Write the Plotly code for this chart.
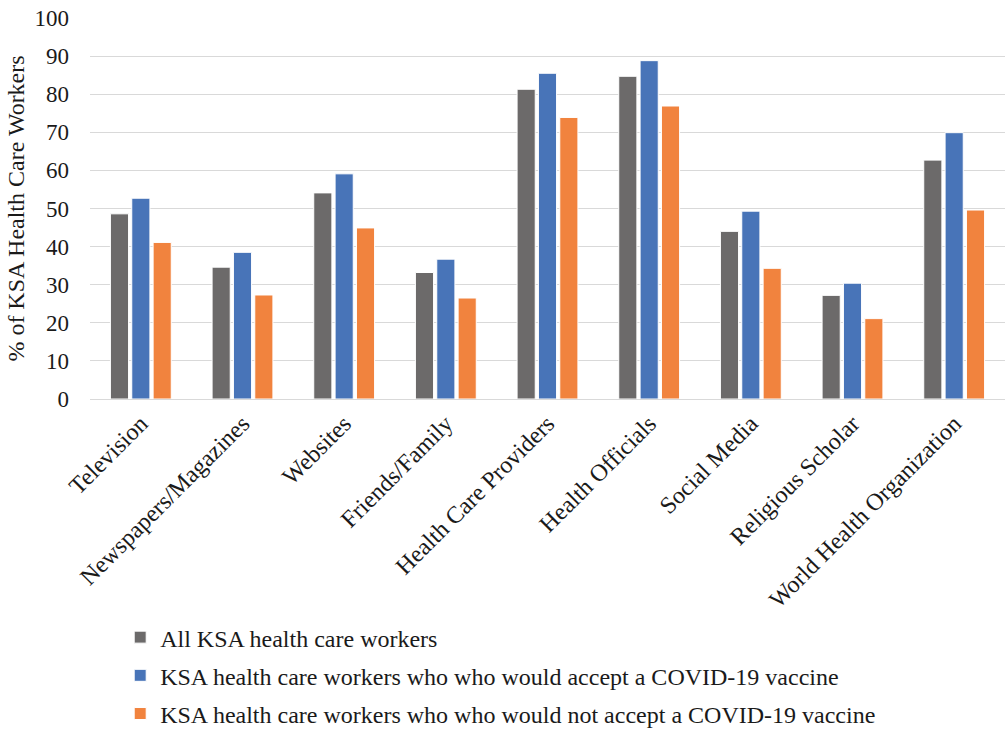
import plotly.graph_objects as go

categories = ["Television", "Newspapers/Magazines", "Websites", "Friends/Family",
              "Health Care Providers", "Health Officials", "Social Media",
              "Religious Scholar", "World Health Organization"]
all_workers = [48.6, 34.6, 54.1, 33.2, 81.3, 84.7, 44.0, 27.2, 62.7]
accept = [52.7, 38.5, 59.1, 36.7, 85.5, 88.8, 49.3, 30.4, 69.9]
not_accept = [41.1, 27.3, 44.9, 26.5, 73.9, 76.9, 34.3, 21.1, 49.6]
series_names = ["All KSA health care workers",
                "KSA health care workers who who would accept a COVID-19 vaccine",
                "KSA health care workers who who would not accept a COVID-19 vaccine"]
colors = ["#6c6a6a", "#4874b8", "#f1833e"]
y_ticks = [0, 10, 20, 30, 40, 50, 60, 70, 80, 90, 100]

FONT = "Liberation Serif, Times New Roman, serif"
TXT = "#1a1a1a"

fig = go.Figure()
for i, (name, vals) in enumerate(zip(series_names, [all_workers, accept, not_accept])):
    fig.add_trace(go.Bar(
        x=categories, y=vals, name=name,
        marker=dict(color=colors[i], line=dict(color="white", width=1)),
        legendgroup=f"g{i}",
    ))

fig.update_layout(
    width=1006, height=729,
    margin=dict(l=90, r=1, t=18, b=330, autoexpand=False),
    paper_bgcolor="white", plot_bgcolor="white",
    barmode="group", bargap=0.37, bargroupgap=0.15,
    font=dict(family=FONT, size=24, color=TXT),
    showlegend=True,
    legend=dict(
        x=0.033, y=-0.567, xanchor="left", yanchor="top",
        font=dict(family=FONT, size=24, color=TXT),
        tracegroupgap=4, itemwidth=30,
        bgcolor="rgba(0,0,0,0)",
    ),
    xaxis=dict(
        tickangle=-45, tickfont=dict(family=FONT, size=24, color=TXT),
        showline=True, linecolor="#d9d9d9", linewidth=1,
        ticks="", automargin=False,
    ),
    yaxis=dict(
        range=[0, 100], tickvals=y_ticks,
        tickfont=dict(family=FONT, size=23, color=TXT),
        showgrid=True, gridcolor="#d9d9d9", gridwidth=1,
        zeroline=False, showline=False, ticks="",
        ticklabelstandoff=20,
        title=dict(text="% of KSA Health Care Workers",
                   font=dict(family=FONT, size=24, color=TXT), standoff=3),
        automargin=False,
    ),
)

fig.write_html("out.html")
